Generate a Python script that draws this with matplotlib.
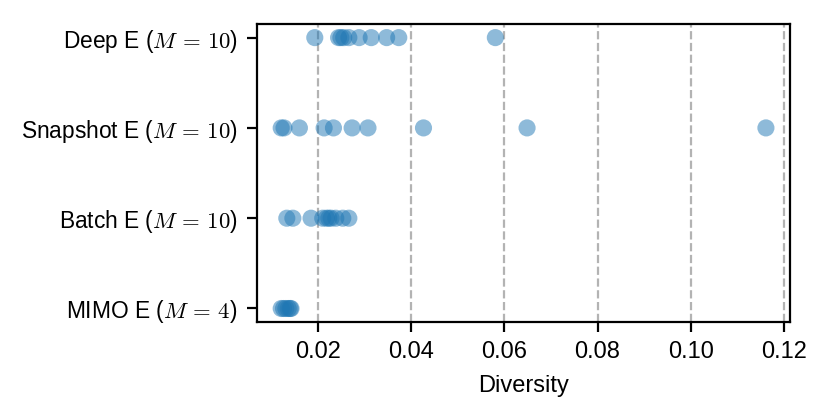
import numpy as np
import matplotlib
matplotlib.use("Agg")
import matplotlib.pyplot as plt

plt.rcParams['font.family'] = ['Liberation Sans', 'DejaVu Sans']
plt.rcParams['mathtext.fontset'] = 'cm'
plt.rcParams['font.size'] = 8.5
plt.rcParams['ytick.labelsize'] = 8.2

# diversity per ensemble
deep_e = [0.0194, 0.0245, 0.0250, 0.0256, 0.0267, 0.0289, 0.0315, 0.0348, 0.0374, 0.0581]
snapshot_e = [0.0122, 0.0128, 0.0161, 0.0214, 0.0234, 0.0274, 0.0308, 0.0427, 0.0649, 0.1161]
batch_e = [0.0134, 0.0147, 0.0186, 0.0211, 0.0219, 0.0224, 0.0229, 0.0239, 0.0254, 0.0267]
mimo_e = [0.0122, 0.0127, 0.0132, 0.0137, 0.0141, 0.0143]

labels = [r"MIMO E ($M\,=\,4$)", r"Batch E ($M\,=\,10$)",
          r"Snapshot E ($M\,=\,10$)", r"Deep E ($M\,=\,10$)"]
groups = [mimo_e, batch_e, snapshot_e, deep_e]

fig = plt.figure(figsize=(4.15, 2.075), dpi=200)
ax = fig.add_axes([0.3096, 0.224, 0.6424, 0.718])

for i, vals in enumerate(groups):
    ax.scatter(vals, np.full(len(vals), i), s=38, color="C0", alpha=0.5,
               edgecolors="none", zorder=3)

ax.set_yticks(range(len(labels)))
ax.set_yticklabels(labels)
ax.set_xticks([0.02, 0.04, 0.06, 0.08, 0.10, 0.12])
ax.set_xlabel("Diversity")
ax.grid(axis="x", linestyle="--", color="0.7", linewidth=0.8)
ax.set_axisbelow(True)

fig.savefig("out.png", dpi=200)
